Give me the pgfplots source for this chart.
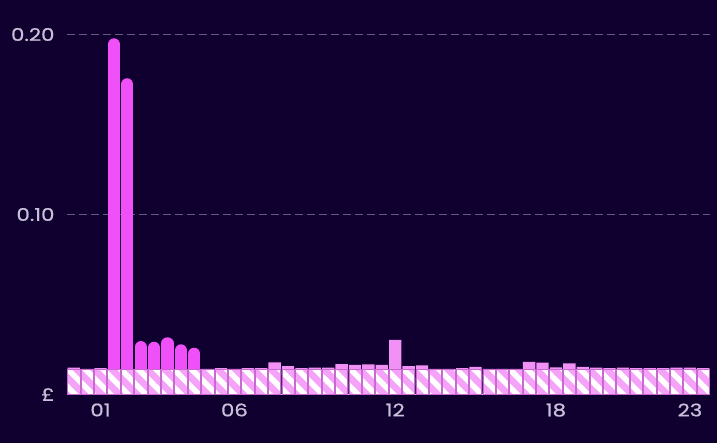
\documentclass[border=0pt]{standalone}
\usepackage{fontspec}
\setmainfont{Poppins}[FakeStretch=1.22, FakeBold=0.8]
\usepackage{pgfplots}
\pgfplotsset{compat=1.18}
\usetikzlibrary{patterns.meta}
\definecolor{bg}{HTML}{100030}
\definecolor{gridc}{HTML}{625A80}
\definecolor{tickc}{HTML}{C8C0D8}
\definecolor{mag}{HTML}{F050F8}
\definecolor{lpink}{HTML}{F190F5}
\definecolor{hpink}{HTML}{F5A3F8}
\definecolor{edge}{HTML}{C868D0}
\definecolor{basec}{HTML}{E6C8F0}
\begin{document}
\begin{tikzpicture}
\fill[bg] (0,0) rectangle (717bp,443bp);
\begin{axis}[
  at={(67bp,48.5bp)}, anchor=south west,
  scale only axis, width=643bp, height=394.5bp,
  xmin=-0.5, xmax=47.5, ymin=0, ymax=0.21917,
  axis x line=bottom, axis y line=left,
  x axis line style={draw=basec, -, line width=1bp},
  y axis line style={draw=none},
  major tick length=0pt,
  tick style={draw=none},
  xtick={2,12,24,36,46}, xticklabels={01,06,12,18,23},
  ytick={0.1,0.2},
  extra y ticks={0}, extra y tick labels={£}, extra y tick style={grid=none},
  ymajorgrids, grid style={draw=gridc, dash pattern=on 8bp off 4bp, line width=1.6bp},
  tick label style={font=\fontsize{17.5}{20}\selectfont, text=tickc},
  yticklabel style={/pgf/number format/fixed, /pgf/number format/fixed zerofill, /pgf/number format/precision=2, /pgf/number format/assume math mode=true, xshift=-9bp},
  xticklabel style={yshift=-5.5bp},
]
% light pink totals
\addplot[ybar, bar width=0.92, bar shift=0pt, fill=lpink, draw=none] coordinates {
(0,0.0149) (1,0.0142) (2,0.0147)
(10,0.0142) (11,0.0147) (12,0.0142) (13,0.0147) (14,0.0147) (15,0.0179)
(16,0.0158) (17,0.0146) (18,0.0149) (19,0.0149) (20,0.0169) (21,0.0164)
(22,0.0168) (23,0.0164) (24,0.0304) (25,0.0157) (26,0.0162) (27,0.0142)
(28,0.0142) (29,0.0147) (30,0.0153) (31,0.0142) (32,0.0142) (33,0.0142)
(34,0.0181) (35,0.0177) (36,0.0151) (37,0.0173) (38,0.0153) (39,0.0149)
(40,0.0146) (41,0.0149) (42,0.0147) (43,0.0146) (44,0.0146) (45,0.0149)
(46,0.0149) (47,0.0146)
};
% magenta rounded bars
\addplot[ycomb, mag, mark=none, line width=12.3bp, line cap=round, yshift=-6.15bp] coordinates {
(3,0.1979) (4,0.1757) (5,0.0297) (6,0.0293) (7,0.0318) (8,0.0279) (9,0.0260)
};
% hatched base
\addplot[ybar, bar width=0.92, bar shift=0pt, fill=hpink, draw=edge, line width=0.6bp,
  postaction={pattern={Lines[angle=-45,distance=12.5bp,line width=5.5bp]}, pattern color=white}] coordinates {
(0,0.014) (1,0.014) (2,0.014) (3,0.014) (4,0.014) (5,0.014) (6,0.014) (7,0.014)
(8,0.014) (9,0.014) (10,0.014) (11,0.014) (12,0.014) (13,0.014) (14,0.014) (15,0.014)
(16,0.014) (17,0.014) (18,0.014) (19,0.014) (20,0.014) (21,0.014) (22,0.014) (23,0.014)
(24,0.014) (25,0.014) (26,0.014) (27,0.014) (28,0.014) (29,0.014) (30,0.014) (31,0.014)
(32,0.014) (33,0.014) (34,0.014) (35,0.014) (36,0.014) (37,0.014) (38,0.014) (39,0.014)
(40,0.014) (41,0.014) (42,0.014) (43,0.014) (44,0.014) (45,0.014) (46,0.014) (47,0.014)
};
\end{axis}
\end{tikzpicture}
\end{document}
